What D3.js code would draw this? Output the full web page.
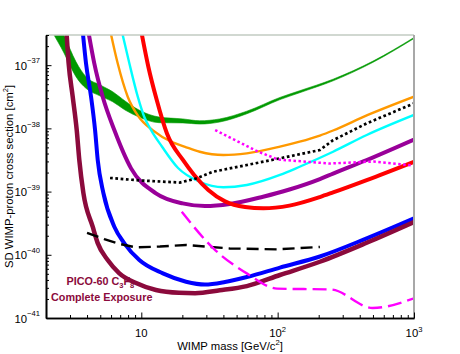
<!DOCTYPE html>
<html>
<head>
<meta charset="utf-8">
<script src="https://cdn.jsdelivr.net/npm/d3@7"></script>
<style>
  body { margin: 0; background: #fff; }
  svg { display: block; font-family: "Liberation Sans", Arial, sans-serif; }
</style>
</head>
<body>
<div id="chart"></div>
<script>
// WIMP mass [GeV/c^2] and SD cross section [cm^2]

// green band (upper / lower edge)
const greenMass = [2.14, 2.45, 2.71, 3.0, 3.32, 3.93, 5.0, 6.17, 7.6, 9.62, 13.5, 20.2, 26.8, 37.6, 59.4, 104, 145, 255, 501, 1000];
const greenHi = [8.95e-37, 4.82e-37, 3.0e-37, 1.8e-37, 1.13e-37, 6.56e-38, 4.85e-38, 3.8e-38, 2.71e-38, 1.95e-38, 1.51e-38, 1.41e-38, 1.32e-38, 1.41e-38, 1.87e-38, 3.09e-38, 3.94e-38, 6.0e-38, 1.16e-37, 2.74e-37];
const greenLo = [3.87e-37, 2.32e-37, 1.56e-37, 9.87e-38, 6.56e-38, 4.3e-38, 3.25e-38, 2.64e-38, 1.95e-38, 1.51e-38, 1.23e-38, 1.22e-38, 1.17e-38, 1.26e-38, 1.70e-38, 2.85e-38, 3.66e-38, 5.65e-38, 1.11e-37, 2.64e-37];

const orangeMass = [5.9, 6.71, 7.95, 9.57, 12.1, 17.0, 20.7, 26.8, 40, 59.4, 104, 145, 204, 255, 450, 1000];
const orangeSigma = [3.6e-37, 1.07e-37, 3.17e-38, 1.53e-38, 9.4e-39, 6.0e-39, 5.16e-39, 4.27e-39, 3.79e-39, 4.03e-39, 5.13e-39, 6.15e-39, 7.7e-39, 9.25e-39, 1.6e-38, 3.17e-38];

const cyanMass = [7.16, 8.17, 9.42, 10.5, 11.8, 14.2, 18.6, 26.8, 40, 59.4, 104, 145, 255, 450, 1000];
const cyanSigma = [3.6e-37, 1.07e-37, 3.17e-38, 1.53e-38, 9.4e-39, 5.13e-39, 2.36e-39, 1.43e-39, 1.17e-39, 1.27e-39, 1.83e-39, 2.47e-39, 4.27e-39, 7.85e-39, 1.63e-38];

const purpleMass = [4.07, 4.52, 5.21, 6.34, 8.41, 12.8, 20.1, 29.3, 44.5, 78.2, 122, 204, 255, 450, 1000];
const purpleSigma = [3.6e-37, 1.07e-37, 3.17e-38, 9.4e-39, 2.33e-39, 9.4e-40, 6.5e-40, 5.9e-40, 6.35e-40, 8.3e-40, 1.08e-39, 1.58e-39, 1.93e-39, 3.16e-39, 6.67e-39];

const blueMass = [3.71, 3.93, 4.28, 4.58, 4.79, 5.27, 6.34, 7.51, 9.67, 14.4, 21.3, 29.3, 41.1, 59.4, 104, 204, 450, 1000];
const blueSigma = [3.6e-37, 1.07e-37, 3.17e-38, 9.4e-39, 3.16e-39, 9.5e-40, 2.78e-40, 1.52e-40, 8.26e-41, 5.08e-41, 3.75e-41, 3.38e-41, 3.71e-41, 4.45e-41, 6.28e-41, 9.4e-41, 1.82e-40, 3.77e-40];

const picoMass = [2.82, 2.93, 3.14, 3.36, 3.51, 3.76, 4.40, 4.79, 5.67, 6.87, 9.15, 12.8, 18.9, 24.8, 37.6, 59.4, 104, 204, 450, 1000];
const picoSigma = [3.6e-37, 1.08e-37, 3.17e-38, 9.4e-39, 3.16e-39, 9.5e-40, 2.78e-40, 1.53e-40, 8.26e-41, 5.14e-41, 3.57e-41, 2.77e-41, 2.5e-41, 2.47e-41, 2.74e-41, 3.2e-41, 4.79e-41, 7.76e-41, 1.55e-40, 3.3e-40];

const redMass = [9.95, 11.26, 12.98, 15.4, 20.2, 24.4, 31, 41.1, 57.7, 78.6, 122, 204, 255, 450, 1000];
const redSigma = [3.6e-37, 9.45e-38, 2.81e-38, 8.35e-39, 3.16e-39, 1.83e-39, 1.06e-39, 7.0e-40, 5.7e-40, 5.43e-40, 6.0e-40, 8.2e-40, 9.7e-40, 1.52e-39, 2.96e-39];

const dotMass = [5.9, 9.79, 19.2, 25.5, 33.6, 59.4, 104, 204, 255, 450, 1000];
const dotSigma = [1.64e-39, 1.5e-39, 1.39e-39, 1.62e-39, 2.06e-39, 2.63e-39, 3.36e-39, 4.54e-39, 6.5e-39, 1.2e-38, 2.49e-38];

const magDotMass = [34.8, 70.3, 100.7, 242, 504, 1000];
const magDotSigma = [9.4e-39, 4.38e-39, 3.21e-39, 2.78e-39, 2.99e-39, 2.58e-39];

const dashMass = [4.0, 5.35, 6.98, 9.15, 13.7, 21.3, 44.5, 98.6, 204];
const dashSigma = [2.23e-40, 1.77e-40, 1.48e-40, 1.31e-40, 1.35e-40, 1.43e-40, 1.26e-40, 1.22e-40, 1.33e-40];

const magDashMass = [19.8, 33.8, 59.4, 99, 246, 497, 1000];
const magDashSigma = [4.8e-40, 1.26e-40, 5.08e-41, 2.92e-41, 2.82e-41, 1.44e-41, 2.05e-41];

// tick labels
const xTickValues = [10, 100, 1000];
const xTickSup = ["", "2", "3"];
const yTickValues = [1e-41, 1e-40, 1e-39, 1e-38, 1e-37];
const yTickSup = ["\u221241", "\u221240", "\u221239", "\u221238", "\u221237"];

const width = 460, height = 354;
const plot = { left: 46, right: 414, top: 35, bottom: 318 };

const svg = d3.select("#chart").append("svg")
    .attr("width", width)
    .attr("height", height);

const x = d3.scaleLog().domain([2, 1000]).range([plot.left, plot.right]);
const y = d3.scaleLog().domain([1e-41, 3e-37]).range([plot.bottom, plot.top]);

svg.append("clipPath").attr("id", "clip")
    .append("rect")
    .attr("x", plot.left).attr("y", plot.top)
    .attr("width", plot.right - plot.left)
    .attr("height", plot.bottom - plot.top);

const curves = svg.append("g").attr("clip-path", "url(#clip)");

// green band
const band = d3.zip(greenMass, greenHi, greenLo);
curves.append("path")
    .datum(band)
    .attr("fill", "#009900")
    .attr("stroke", "#009900")
    .attr("stroke-width", 0.6)
    .attr("d", d3.area()
        .x(d => x(d[0]))
        .y0(d => y(d[2]))
        .y1(d => y(d[1]))
        .curve(d3.curveMonotoneX));

const smooth = d3.line().x(d => x(d[0])).y(d => y(d[1])).curve(d3.curveMonotoneX);
const straight = d3.line().x(d => x(d[0])).y(d => y(d[1]));

function draw(mass, sigma, color, w, gen, dash) {
    curves.append("path")
        .datum(d3.zip(mass, sigma))
        .attr("fill", "none")
        .attr("stroke", color)
        .attr("stroke-width", w)
        .attr("stroke-dasharray", dash || null)
        .attr("d", gen);
}

draw(orangeMass, orangeSigma, "#ff9900", 2.4, smooth);
draw(cyanMass, cyanSigma, "#00ffff", 2.4, smooth);
draw(purpleMass, purpleSigma, "#990099", 4, smooth);
draw(blueMass, blueSigma, "#0000ff", 4, smooth);
draw(picoMass, picoSigma, "#8b0a3c", 4.5, smooth);
draw(redMass, redSigma, "#ff0000", 4, smooth);
draw(dotMass, dotSigma, "#000000", 2.7, straight, "2.7,2.6");
draw(magDotMass, magDotSigma, "#ff00ff", 2.5, straight, "2.5,2.5");
draw(dashMass, dashSigma, "#000000", 2.4, straight, "12,6");
draw(magDashMass, magDashSigma, "#ff00ff", 2.4, smooth, "14,6");

// frame: top and right
svg.append("line")
    .attr("x1", plot.left).attr("x2", plot.right)
    .attr("y1", plot.top).attr("y2", plot.top)
    .attr("stroke", "#c2cbc2").attr("stroke-width", 1.5);
svg.append("line")
    .attr("x1", plot.right).attr("x2", plot.right)
    .attr("y1", plot.top).attr("y2", plot.bottom)
    .attr("stroke", "#a8a8a8").attr("stroke-width", 2);

// minor / major ticks, pointing inward
const xMinor = [3, 4, 5, 6, 7, 8, 9, 20, 30, 40, 50, 60, 70, 80, 90, 200, 300, 400, 500, 600, 700, 800, 900];
const yMinor = [];
for (let e = -41; e <= -37; e++) {
    for (let k = 2; k <= 9; k++) {
        const v = k * Math.pow(10, e);
        if (v <= 3.01e-37) yMinor.push(v);
    }
}

function styleAxis(g) {
    g.selectAll("path.domain").attr("stroke", "#000").attr("stroke-width", 1.6);
    g.selectAll(".tick line").attr("stroke", "#000").attr("stroke-width", 1);
}

svg.append("g")
    .attr("transform", `translate(0,${plot.bottom})`)
    .call(d3.axisBottom(x).tickValues(xMinor).tickSizeInner(-3).tickSizeOuter(0).tickFormat(""))
    .call(styleAxis);
svg.append("g")
    .attr("transform", `translate(0,${plot.bottom})`)
    .call(d3.axisBottom(x).tickValues(xTickValues).tickSizeInner(-5.5).tickSizeOuter(0).tickFormat(""))
    .call(styleAxis);
svg.append("g")
    .attr("transform", `translate(${plot.left},0)`)
    .call(d3.axisLeft(y).tickValues(yMinor).tickSizeInner(-3).tickSizeOuter(0).tickFormat(""))
    .call(styleAxis);
svg.append("g")
    .attr("transform", `translate(${plot.left},0)`)
    .call(d3.axisLeft(y).tickValues(yTickValues).tickSizeInner(-5.5).tickSizeOuter(0).tickFormat(""))
    .call(styleAxis);

// tick labels
xTickValues.forEach((v, i) => {
    const t = svg.append("text")
        .attr("x", x(v))
        .attr("y", 337)
        .attr("text-anchor", "middle")
        .attr("font-size", 11.3)
        .attr("fill", "#000");
    t.append("tspan").text("10");
    if (xTickSup[i]) t.append("tspan").attr("font-size", 7.6).attr("dy", -5.5).text(xTickSup[i]);
});
yTickValues.forEach((v, i) => {
    const t = svg.append("text")
        .attr("x", 40)
        .attr("y", y(v) + 4.5)
        .attr("text-anchor", "end")
        .attr("font-size", 11.3)
        .attr("fill", "#000");
    t.append("tspan").text("10");
    t.append("tspan").attr("font-size", 7.6).attr("dy", -6.2).text(yTickSup[i]);
});

// axis titles
const xt = svg.append("text")
    .attr("x", 230).attr("y", 350)
    .attr("text-anchor", "middle")
    .attr("font-size", 11.3);
xt.append("tspan").text("WIMP mass [GeV/c");
xt.append("tspan").attr("font-size", 7.6).attr("dy", -5).text("2");
xt.append("tspan").attr("dy", 5).text("]");

const yt = svg.append("text")
    .attr("transform", `translate(12.5,${(plot.top + plot.bottom) / 2}) rotate(-90)`)
    .attr("text-anchor", "middle")
    .attr("font-size", 11.3);
yt.append("tspan").text("SD WIMP-proton cross section [cm");
yt.append("tspan").attr("font-size", 7.6).attr("dy", -5).text("2");
yt.append("tspan").attr("dy", 5).text("]");

// PICO label
const lab1 = svg.append("text")
    .attr("x", 66.5).attr("y", 285)
    .attr("font-size", 10.8).attr("font-weight", "bold")
    .attr("fill", "#8b0a3c");
lab1.append("tspan").text("PICO-60 C");
lab1.append("tspan").attr("font-size", 7.5).attr("dy", 2.5).text("3");
lab1.append("tspan").attr("dy", -2.5).text("F");
lab1.append("tspan").attr("font-size", 7.5).attr("dy", 2.5).text("8");

svg.append("text")
    .attr("x", 51).attr("y", 300.5)
    .attr("font-size", 10.8).attr("font-weight", "bold")
    .attr("fill", "#8b0a3c")
    .text("Complete Exposure");
</script>
</body>
</html>
